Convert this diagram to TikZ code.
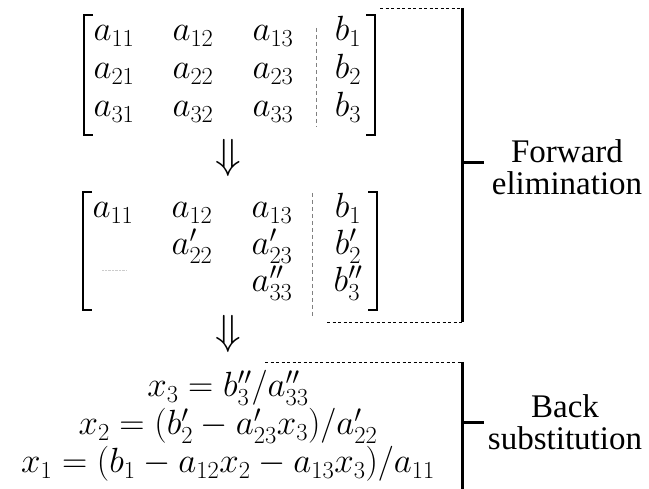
\RequirePackage{fix-cm}
\documentclass[tikz,border=0pt]{standalone}
\usepackage{fontspec}
\setmainfont{Liberation Serif}
\newfontfamily\phasefont{LiberationSerif}[Extension=.ttf, UprightFont=*-Regular]

\begin{document}
\begin{tikzpicture}[x=1pt, y=-1pt,
  entry/.style={anchor=base, inner sep=0pt, font=\fontsize{35}{38}\selectfont},
  arrowglyph/.style={inner sep=0pt, font=\fontsize{42}{44}\selectfont},
  brack/.style={line width=2.4pt},
  bar/.style={line width=3pt},
  sep/.style={gray, line width=0.8pt, dash pattern=on 4pt off 3pt},
  guide/.style={line width=0.9pt, dash pattern=on 3pt off 2.5pt},
  phase/.style={align=center, inner sep=0pt, font=\phasefont\fontsize{33}{32}\selectfont}]
  \useasboundingbox (0,0) rectangle (649,489);

  % augmented matrix
  \draw[brack] (93,15) -- (84,15) -- (84,135) -- (93,135);
  \draw[brack] (366,15) -- (375,15) -- (375,135) -- (366,135);
  \foreach \r/\y in {1/41, 2/79, 3/117} {
    \foreach \c/\x in {1/114, 2/193, 3/273}
      \node[entry] (A\r\c) at (\x,\y) {$a_{\r\c}$};
    \node[entry] (B\r) at (348,\y) {$b_\r$};
  }
  \draw[sep] (316,28) -- (316,127);

  \node[arrowglyph] (down1) at (228,158) {$\Downarrow$};

  % upper triangular form
  \draw[brack] (92,192) -- (83,192) -- (83,310) -- (92,310);
  \draw[brack] (368,192) -- (377,192) -- (377,310) -- (368,310);
  \node[entry] (U11) at (113,218) {$a_{11}$};
  \node[entry] (U12) at (192,218) {$a_{12}$};
  \node[entry] (U13) at (272,218) {$a_{13}$};
  \node[entry] (U22) at (192,255) {$a_{22}'$};
  \node[entry] (U23) at (272,255) {$a_{23}'$};
  \node[entry] (U33) at (272,292) {$a_{33}''$};
  \node[entry] (C1) at (348,218) {$b_1$};
  \node[entry] (C2) at (348,255) {$b_2'$};
  \node[entry] (C3) at (348,292) {$b_3''$};
  \draw[sep] (312,193) -- (312,317);
  \draw[gray!40, densely dotted] (102,270) -- (127,270);

  \node[arrowglyph] (down2) at (228,334) {$\Downarrow$};

  % back substitution
  \node[entry] (X3) at (228,397) {$x_3 = b_3''/a_{33}''$};
  \node[entry] (X2) at (228,435) {$x_2 = (b_2' - a_{23}'x_3)/a_{22}'$};
  \node[entry] (X1) at (228,473) {$x_1 = (b_1 - a_{12}x_2 - a_{13}x_3)/a_{11}$};

  % braces on the right
  \draw[guide] (380,8) -- (462,8);
  \draw[guide] (327,322) -- (462,322);
  \draw[bar] (462,8) -- (462,322);
  \draw[bar] (462,163) -- (484,163);
  \node[phase] (fwd) at (567,167) {Forward\\elimination};

  \draw[guide] (265,362) -- (462,362);
  \draw[bar] (462,362) -- (462,489);
  \draw[bar] (462,423) -- (484,423);
  \node[phase] (back) at (565,422) {Back\\substitution};
\end{tikzpicture}
\end{document}
